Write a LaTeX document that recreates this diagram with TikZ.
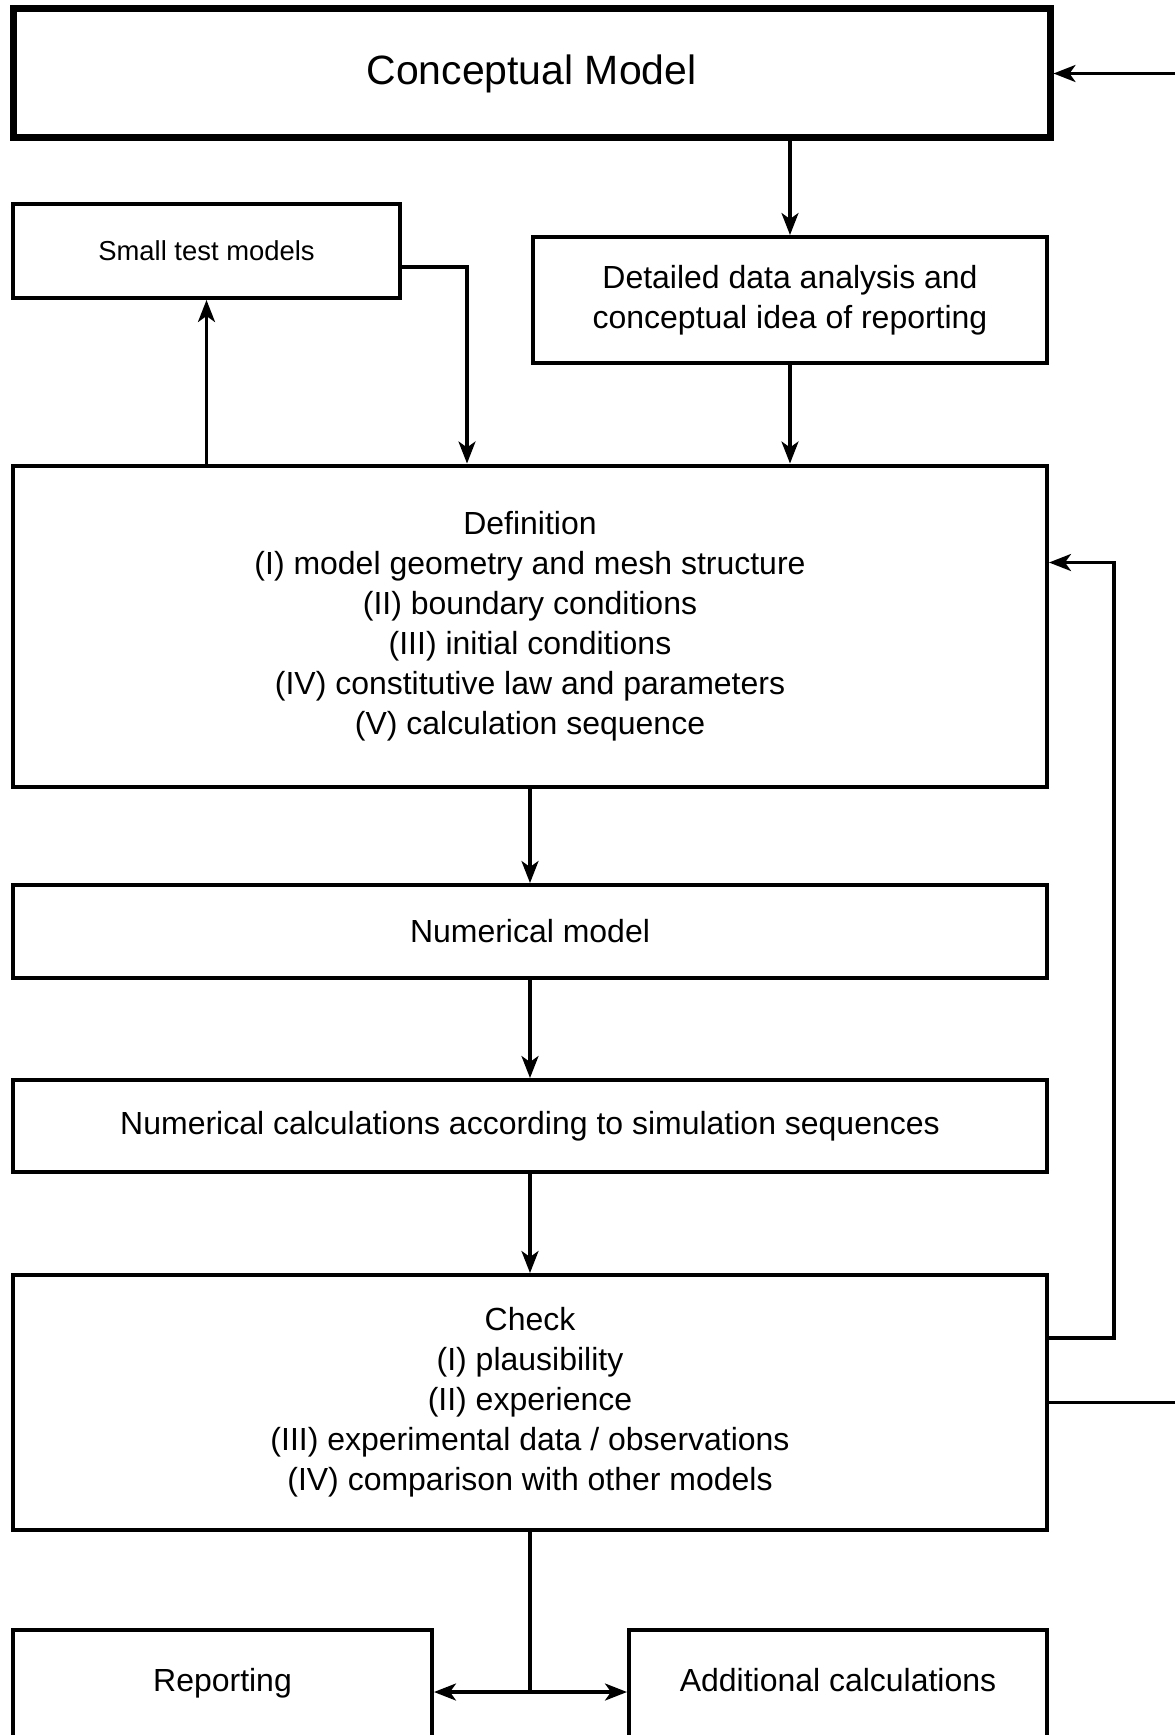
\documentclass[tikz,border=0pt]{standalone}
\usepackage{fontspec}
\setmainfont{Liberation Sans}
\usetikzlibrary{arrows.meta}

\begin{document}
\begin{tikzpicture}[
    box/.style={draw, line width=0.08cm, align=center, inner sep=0pt,
        minimum width=20.68cm, font=\fontsize{18.2}{22.8}\selectfont},
    endbox/.style={box, minimum height=2.4cm, text height=0.5cm, text depth=0.45cm},
    arr/.style={line width=0.065cm, -{Stealth[length=0.44cm,width=0.34cm,inset=0.12cm]}},
    wire/.style={line width=0.065cm}
]
    % Frame (the figure is cut off on the right and at the bottom)
    \useasboundingbox (0,0) rectangle (23.5,-34.7);
    \clip (0,0) rectangle (23.5,-34.7);
    \coordinate (offR) at (24,0);

    % Boxes
    \node[box, line width=0.14cm, minimum width=20.74cm, minimum height=2.58cm,
        font=\fontsize{23.3}{28}\selectfont] (concept) at (10.63,-1.47) {Conceptual Model};
    \node[box, minimum width=7.74cm, minimum height=1.88cm,
        font=\fontsize{15.6}{19}\selectfont] (small) at (4.13,-5.02) {Small test models};
    \node[box, minimum width=10.28cm, minimum height=2.52cm] (detail) at (15.8,-6.0)
        {Detailed data analysis and\\conceptual idea of reporting};
    \node[box, minimum height=6.42cm] (def) at (10.6,-12.52)
        {Definition\\(I) model geometry and mesh structure\\(II) boundary conditions\\(III) initial conditions\\(IV) constitutive law and parameters\\(V) calculation sequence};
    \node[box, minimum height=1.86cm] (nummod) at (10.6,-18.63) {Numerical model};
    \node[box, minimum height=1.84cm] (numcalc) at (10.6,-22.52)
        {Numerical calculations according to simulation sequences};
    \node[box, minimum height=5.1cm] (check) at (10.6,-28.05)
        {Check\\(I) plausibility\\(II) experience\\(III) experimental data / observations\\(IV) comparison with other models};
    \node[endbox, minimum width=8.38cm] (report) at (4.45,-33.8) {Reporting};
    \node[endbox, minimum width=8.36cm] (addcalc) at (16.76,-33.8) {Additional calculations};

    % Arrows
    \draw[arr] (concept.south -| detail.north) -- (detail.north);
    \draw[arr] (detail.south) -- (detail.south |- def.north);
    \draw[arr] (small.south |- def.north) -- (small.south);
    \draw[arr] ([yshift=-0.32cm]small.east) -| ([xshift=-1.26cm]def.north);
    \draw[arr] (def.south) -- (nummod.north);
    \draw[arr] (nummod.south) -- (numcalc.north);
    \draw[arr] (numcalc.south) -- (check.north);

    % Feedback loops
    \draw[arr] ([yshift=1.29cm]check.east) -- ++(1.3,0) |- ([yshift=1.27cm]def.east);
    \draw[wire] (check.east) -- (check.east -| offR);
    \draw[arr] (concept.east -| offR) -- (concept.east);

    % Split to the results
    \coordinate (split) at ([yshift=-0.04cm]check.south |- report.east);
    \draw[wire] (check.south) -- (split);
    \draw[arr] (split) -- (split -| report.east);
    \draw[arr] (split) -- (split -| addcalc.west);
\end{tikzpicture}
\end{document}
